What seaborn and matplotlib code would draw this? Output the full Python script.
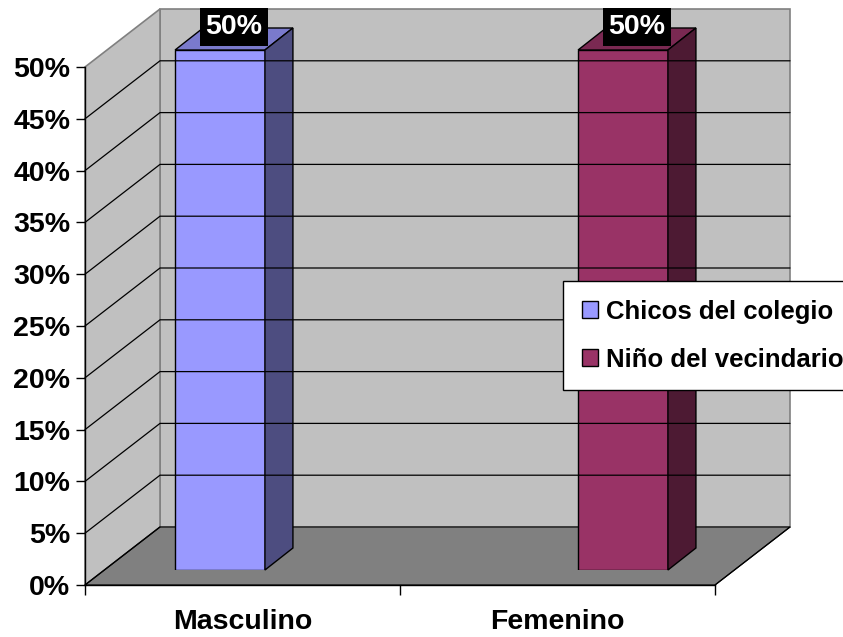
import numpy as np
import pandas as pd
import matplotlib
matplotlib.use("Agg")
import matplotlib.pyplot as plt
import matplotlib.transforms as mtransforms
from matplotlib.patches import Polygon, Patch
from matplotlib.lines import Line2D
import seaborn as sns

# ---- data ----
categories = ["Masculino", "Femenino"]
series = ["Chicos del colegio", "Niño del vecindario"]
values = [0.50, 0.50]
y_ticks = [0.0, 0.05, 0.10, 0.15, 0.20, 0.25, 0.30, 0.35, 0.40, 0.45, 0.50]
y_tick_labels = ["0%", "5%", "10%", "15%", "20%", "25%", "30%", "35%", "40%", "45%", "50%"]
value_labels = ["50%", "50%"]

front_colors = ["#9999FF", "#993366"]
top_colors = ["#7A7ACC", "#7A2952"]
side_colors = ["#4D4D80", "#4D1A33"]

df = pd.DataFrame({"Sexo": categories, "Porcentaje": values, "Serie": series})

sns.set_style("white")
plt.rcParams["font.family"] = ["Liberation Sans", "DejaVu Sans"]
plt.rcParams["font.weight"] = "bold"
plt.rcParams["text.color"] = "black"
plt.rcParams["xtick.color"] = "black"
plt.rcParams["ytick.color"] = "black"
plt.rcParams["axes.labelcolor"] = "black"

FS = 20.5
W, H = 843, 637
fig = plt.figure(figsize=(W / 100, H / 100), dpi=100)


def px_rect(l, t, r, b):
    return [l / W, 1 - b / H, (r - l) / W, (b - t) / H]


# front plane axes (axis ticks/labels)
ax = fig.add_axes(px_rect(85, 67, 715, 585))
ax.set_xlim(0, 2)
ax.set_ylim(0, 0.5)
ax.patch.set_visible(False)
for s in ["top", "right"]:
    ax.spines[s].set_visible(False)
ax.spines["left"].set_color("black")
ax.spines["bottom"].set_color("black")
ax.spines["left"].set_linewidth(1)
ax.spines["bottom"].set_linewidth(1)
ax.set_yticks(y_ticks)
ax.set_yticklabels(y_tick_labels, fontsize=FS, fontweight="bold", color="black")
ax.tick_params(axis="y", length=6.5, width=1, pad=4, color="black", left=True)
ax.set_xticks([0, 1, 2])
ax.set_xticklabels(["", "", ""])
ax.tick_params(axis="x", which="major", length=7.5, width=1, color="black", bottom=True)
ax.set_xticks([0.5, 1.5], minor=True)
ax.set_xticklabels(categories, minor=True, fontsize=FS, fontweight="bold", color="black")
ax.tick_params(axis="x", which="minor", length=0, pad=17)
ax.set_zorder(1)

# depth of the 3D box in pixels
DX, DY = 75, 58
fig.canvas.draw()
T = ax.transData


def d(x, y, ox=0, oy=0):
    p = T.transform((x, y))
    return (p[0] + ox, p[1] + oy)


ident = mtransforms.IdentityTransform()
floor = Polygon([d(0, 0), d(2, 0), d(2, 0, DX, DY), d(0, 0, DX, DY)], closed=True,
                facecolor="#808080", edgecolor="black", linewidth=0.8, transform=ident, zorder=0)
back = Polygon([d(0, 0, DX, DY), d(2, 0, DX, DY), d(2, 0.5, DX, DY), d(0, 0.5, DX, DY)], closed=True,
               facecolor="#C0C0C0", edgecolor="#808080", linewidth=1.2, transform=ident, zorder=0)
side = Polygon([d(0, 0), d(0, 0, DX, DY), d(0, 0.5, DX, DY), d(0, 0.5)], closed=True,
               facecolor="#C0C0C0", edgecolor="#808080", linewidth=1.2, transform=ident, zorder=0)
for p in [back, side, floor]:
    fig.patches.append(p)
    p.set_figure(fig)


def add_line(pts):
    ln = Line2D([q[0] for q in pts], [q[1] for q in pts], color="black", linewidth=0.9,
                transform=ident)
    fig.lines.append(ln)
    ln.set_figure(fig)


for yv in y_ticks[1:-1]:
    add_line([d(0, yv), d(0, yv, DX, DY), d(2, yv, DX, DY)])
add_line([d(0, 0), d(0, 0, DX, DY)])
add_line([d(2, 0), d(2, 0, DX, DY)])

# bars axes
axb = fig.add_axes(px_rect(18.5, 50, 824.5, 570))
axb.set_zorder(2)
sns.barplot(data=df, x="Sexo", y="Porcentaje", hue="Serie", order=categories, hue_order=series,
            palette=front_colors, saturation=1, dodge=False, width=0.223, edgecolor="black",
            linewidth=1, ax=axb, legend=False)
axb.set_xlim(-0.5, 1.5)
axb.set_ylim(0, 0.5)
axb.axis("off")
axb.patch.set_visible(False)

BDX, BDY = 28, 22
fig.canvas.draw()
TB = axb.transData
bars = [p for p in axb.patches if p.get_height() > 0]
bars.sort(key=lambda p: p.get_x())
for i, p in enumerate(bars):
    x0 = p.get_x(); x1 = x0 + p.get_width(); h = p.get_height()
    fl = TB.transform((x0, h)); fr = TB.transform((x1, h)); br = TB.transform((x1, 0))
    top = Polygon([fl, fr, (fr[0] + BDX, fr[1] + BDY), (fl[0] + BDX, fl[1] + BDY)], closed=True,
                  facecolor=top_colors[i], edgecolor="black", linewidth=1, transform=ident,
                  clip_on=False)
    sd = Polygon([br, fr, (fr[0] + BDX, fr[1] + BDY), (br[0] + BDX, br[1] + BDY)], closed=True,
                 facecolor=side_colors[i], edgecolor="black", linewidth=1, transform=ident,
                 clip_on=False)
    axb.add_artist(top); axb.add_artist(sd)
    axb.annotate(value_labels[i], xy=(x0 + p.get_width() / 2, h), xytext=(BDX / 2, 23),
                 textcoords="offset pixels", ha="center", va="center", color="white",
                 fontsize=FS, fontweight="bold", annotation_clip=False,
                 bbox=dict(boxstyle="square,pad=0.2", facecolor="black", edgecolor="none"))

handles = [Patch(facecolor=front_colors[i], edgecolor="black", linewidth=1) for i in range(2)]
leg = fig.legend(handles, series, loc="upper left", bbox_to_anchor=(563 / W, 1 - 281 / H),
                 frameon=True, fancybox=False, shadow=False, framealpha=1,
                 prop={"family": "Liberation Sans", "weight": "bold", "size": 18.5},
                 handlelength=0.65, handleheight=0.65, handletextpad=0.3,
                 labelspacing=0.95, borderpad=0.72, borderaxespad=0)
leg.get_frame().set_edgecolor("black")
leg.get_frame().set_linewidth(1)
leg.set_zorder(5)

fig.savefig("out.png", dpi=100)
